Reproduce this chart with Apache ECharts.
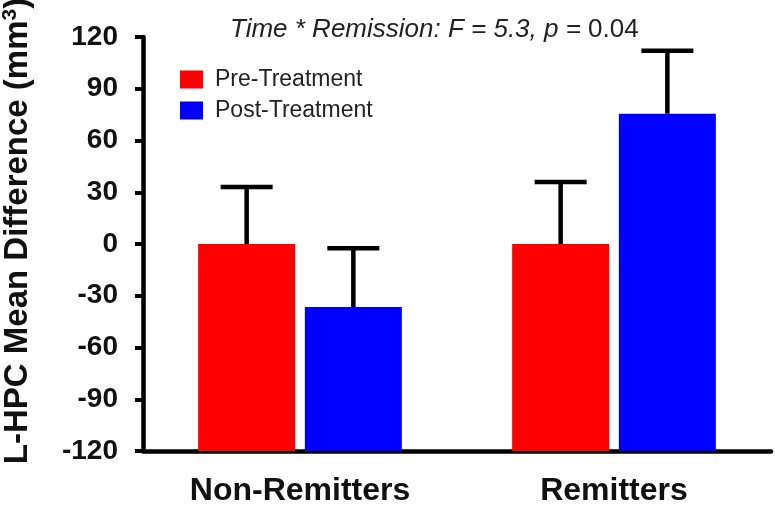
<!DOCTYPE html>
<html>
<head>
<meta charset="utf-8">
<script src="https://cdn.jsdelivr.net/npm/echarts@6/dist/echarts.min.js"></script>
<style>
html,body{margin:0;padding:0;background:#fff;}
#main{width:775px;height:507px;}
</style>
</head>
<body>
<div id="main"></div>
<script>
var categories = ['Non-Remitters', 'Remitters'];
var seriesNames = ['Pre-Treatment', 'Post-Treatment'];
var preMeans = [0, 0];
var postMeans = [-36.5, 75.5];
var preErrors = [33, 36];
var postErrors = [34, 36.5];
var yTicks = { min: -120, max: 120, interval: 30 };

var FONT = 'Liberation Sans, Arial, Helvetica, sans-serif';
var BAR_W = 97;
var GAP_RATIO = 0.1;
var colors = ['#FF0000', '#0000FF'];

function errData(means, errs) {
  return means.map(function (m, i) { return [i, m, errs[i]]; });
}

function makeErr(seriesIdx) {
  var sign = seriesIdx === 0 ? -1 : 1;
  return function (params, api) {
    var cat = api.value(0), m = api.value(1), e = api.value(2);
    var p0 = api.coord([cat, m]);
    var p1 = api.coord([cat, m + e]);
    var off = sign * (BAR_W + BAR_W * GAP_RATIO) / 2;
    var x = p0[0] + off;
    var cap = 26;
    var style = { stroke: '#000', lineWidth: 4.5 };
    return {
      type: 'group',
      children: [
        { type: 'line', shape: { x1: x, y1: p0[1], x2: x, y2: p1[1] }, style: style },
        { type: 'line', shape: { x1: x - cap, y1: p1[1], x2: x + cap, y2: p1[1] }, style: style }
      ]
    };
  };
}

var chart = echarts.init(document.getElementById('main'));
chart.setOption({
  animation: false,
  backgroundColor: '#fff',
  title: {
    text: '{i|Time * Remission: F = 5.3, p = }{n|0.04}',
    left: 225,
    top: 12,
    textStyle: {
      fontWeight: 'normal',
      rich: {
        i: { fontFamily: FONT, fontSize: 26, fontStyle: 'italic', fontWeight: 'normal', color: '#222' },
        n: { fontFamily: FONT, fontSize: 26, fontWeight: 'normal', color: '#222' }
      }
    }
  },
  legend: {
    data: seriesNames,
    orient: 'vertical',
    left: 175,
    top: 63,
    itemWidth: 23,
    itemHeight: 18,
    itemGap: 8,
    icon: 'rect',
    textStyle: { fontFamily: FONT, fontSize: 23, color: '#222', padding: [0, 0, 0, 7] }
  },
  grid: { left: 143, right: 4, top: 37, bottom: 56, outerBoundsMode: 'none', containLabel: false },
  xAxis: {
    type: 'category',
    data: categories,
    axisLine: { onZero: false, lineStyle: { color: '#000', width: 4.5 } },
    axisTick: { alignWithLabel: true, length: 9, lineStyle: { color: '#000', width: 4 } },
    axisLabel: { fontFamily: FONT, fontSize: 32, fontWeight: 'bold', color: '#111', margin: 24 }
  },
  yAxis: {
    type: 'value',
    min: yTicks.min,
    max: yTicks.max,
    interval: yTicks.interval,
    startValue: yTicks.min,
    splitLine: { show: false },
    axisLine: { show: true, lineStyle: { color: '#000', width: 4.5 } },
    axisTick: { show: true, length: 8, lineStyle: { color: '#000', width: 4 } },
    axisLabel: { fontFamily: FONT, fontSize: 28, fontWeight: 'bold', color: '#111', margin: 25 },
    name: '{a|L-HPC Mean Difference (mm}{s|3}{a|)}',
    nameLocation: 'middle',
    nameRotate: 90,
    nameGap: 107,
    nameTextStyle: {
      padding: [0, 0, 0, 26],
      rich: {
        a: { fontFamily: FONT, fontSize: 33, fontWeight: 'bold', color: '#111' },
        s: { fontFamily: FONT, fontSize: 21, fontWeight: 'bold', color: '#111', verticalAlign: 'top', padding: [0, 0, 15, 0] }
      }
    }
  },
  series: [
    {
      name: seriesNames[0], type: 'bar', data: preMeans, barWidth: BAR_W, barGap: (GAP_RATIO * 100) + '%',
      itemStyle: { color: colors[0] }
    },
    {
      name: seriesNames[1], type: 'bar', data: postMeans, barWidth: BAR_W, barGap: (GAP_RATIO * 100) + '%',
      itemStyle: { color: colors[1] }
    },
    { type: 'custom', data: errData(preMeans, preErrors), renderItem: makeErr(0), z: 5, silent: true },
    { type: 'custom', data: errData(postMeans, postErrors), renderItem: makeErr(1), z: 5, silent: true }
  ]
});
</script>
</body>
</html>
